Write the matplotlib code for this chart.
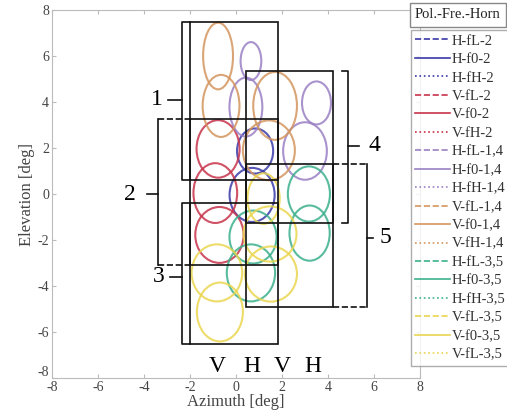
import numpy as np
import matplotlib
matplotlib.use("Agg")
import matplotlib.pyplot as plt
import matplotlib.transforms as mtrans
from matplotlib.patches import Ellipse, Rectangle
from matplotlib.lines import Line2D

plt.rcParams['font.family'] = ['Liberation Serif', 'DejaVu Serif']
plt.rcParams['axes.unicode_minus'] = False

# legend series
series_labels = ['H-fL-2', 'H-f0-2', 'H-fH-2', 'V-fL-2', 'V-f0-2', 'V-fH-2',
                 'H-fL-1,4', 'H-f0-1,4', 'H-fH-1,4', 'V-fL-1,4', 'V-f0-1,4', 'V-fH-1,4',
                 'H-fL-3,5', 'H-f0-3,5', 'H-fH-3,5', 'V-fL-3,5', 'V-f0-3,5', 'V-fL-3,5']
group_colors = ['#3a3aa8', '#c8344c', '#9a80c4', '#d4965e', '#3cb08c', '#ead650']
series_styles = ['--', '-', ':'] * 6

# beam contours: series index, centre az, centre el, width, height
ell_series = [0, 1, 3, 4, 5, 6, 7, 6, 7, 9, 10, 9, 10, 12, 13, 12, 13, 15, 16, 15, 16, 17]
ell_az = [0.83, 0.7, -0.78, -0.9, -0.72, 0.65, 0.43, 3.5, 3.0, -0.78, -0.65, 1.7, 1.43,
          3.17, 3.2, 0.74, 0.65, 1.2, 1.48, 1.52, -0.83, -0.7]
ell_el = [1.87, -0.04, 1.96, 0.04, -1.78, 5.78, 3.78, 3.96, 1.87, 6.0, 3.83, 3.83, 1.9,
          0.0, -1.7, -1.87, -3.43, -0.2, -1.74, -3.48, -3.43, -5.13]
ell_w = [1.57, 1.96, 1.87, 1.9, 2.1, 0.9, 1.43, 1.26, 1.9, 1.3, 1.6, 1.9, 2.26,
         1.83, 1.75, 2.05, 2.1, 1.4, 2.3, 2.26, 2.2, 2.0]
ell_h = [1.96, 2.35, 2.5, 2.6, 2.43, 1.65, 2.56, 1.87, 2.5, 2.9, 2.7, 2.95, 2.6,
         2.4, 2.4, 2.3, 2.48, 2.2, 2.4, 2.4, 2.48, 2.56]

# horn regions
box_az0 = [-2.0, -2.0, -2.0, 0.43, 0.43]
box_az1 = [1.83, 1.83, 1.83, 4.2, 4.2]
box_el0 = [0.6, -3.1, -6.5, -1.27, -4.9]
box_el1 = [7.5, 3.26, -0.39, 5.35, 1.3]

col_letters = ['V', 'H', 'V', 'H']
col_az = [-0.83, 0.7, 2.0, 3.35]

fig = plt.figure(figsize=(5.07, 4.17), dpi=100)
ax = fig.add_axes([52 / 507, 39 / 417, 368 / 507, 368 / 417])

for s, x, y, w, h in zip(ell_series, ell_az, ell_el, ell_w, ell_h):
    ax.add_patch(Ellipse((x, y), w, h, fill=False, lw=1.5,
                         ec=group_colors[s // 3], alpha=0.85))

for x0, x1, y0, y1 in zip(box_az0, box_az1, box_el0, box_el1):
    ax.add_patch(Rectangle((x0, y0), x1 - x0, y1 - y0, fill=False, ec='#111111', lw=1.2))

k = dict(color='#111111', lw=1.2)
# bracket 1
ax.plot([-2.0, -2.35, -2.35, -2.0], [7.5, 7.5, 0.6, 0.6], **k)
ax.plot([-2.96, -2.35], [4.1, 4.1], **k)
ax.text(-3.45, 4.1, '1', fontsize=17, ha='center', va='center')
# bracket 2
ax.plot([-3.4, -2.0], [3.26, 3.26], ls='--', **k)
ax.plot([-3.4, -2.0], [-3.1, -3.1], ls='--', **k)
ax.plot([-3.4, -3.4], [3.26, -3.1], **k)
ax.plot([-3.87, -3.4], [0.0, 0.0], **k)
ax.text(-4.6, 0.0, '2', fontsize=17, ha='center', va='center')
# bracket 3
ax.plot([-2.0, -2.35, -2.35, -2.0], [-0.39, -0.39, -6.5, -6.5], **k)
ax.plot([-2.87, -2.35], [-3.6, -3.6], **k)
ax.text(-3.35, -3.6, '3', fontsize=17, ha='center', va='center')
# bracket 4
ax.plot([4.6, 4.87, 4.87, 4.6], [5.35, 5.35, -1.27, -1.27], **k)
ax.plot([4.87, 5.35], [2.1, 2.1], **k)
ax.text(6.0, 2.1, '4', fontsize=17, ha='center', va='center')
# bracket 5
ax.plot([4.2, 5.7], [1.3, 1.3], ls='--', **k)
ax.plot([4.2, 5.7], [-4.9, -4.9], ls='--', **k)
ax.plot([5.7, 5.7], [1.3, -4.9], **k)
ax.plot([5.7, 5.96], [-1.9, -1.9], **k)
ax.text(6.5, -1.9, '5', fontsize=17, ha='center', va='center')

for letter, x in zip(col_letters, col_az):
    ax.text(x, -7.5, letter, fontsize=17, ha='center', va='center')

ax.set_xlim(-8, 8)
ax.set_ylim(-8, 8)
ax.set_xticks(np.arange(-8, 9, 2))
ax.set_yticks(np.arange(-8, 9, 2))
ax.tick_params(direction='in', top=True, right=True, length=3, color='#bbbbbb',
               labelcolor='#444444', labelsize=10, pad=2)
for sp in ax.spines.values():
    sp.set_color('#bbbbbb')
ax.set_xlabel('Azimuth [deg]', fontsize=12, color='#444444', labelpad=0)
ax.set_ylabel('Elevation [deg]', fontsize=12, color='#444444', labelpad=2)

# lift the bottom y label a little so it clears the -8 of the x axis
ylab0 = ax.get_yticklabels()[0]
ylab0.set_transform(ylab0.get_transform() +
                    mtrans.ScaledTranslation(0, 5 / 72, fig.dpi_scale_trans))

handles = [Line2D([], [], color=group_colors[i // 3], ls=series_styles[i], lw=1.2)
           for i in range(len(series_labels))]
leg = fig.legend(handles, series_labels, loc='upper left',
                 bbox_to_anchor=(411 / 507, 1 - 30 / 417), fontsize=10.5,
                 frameon=True, fancybox=False, edgecolor='#999999',
                 labelspacing=0.36, handlelength=2.4, handletextpad=0.1,
                 borderpad=0.3, borderaxespad=0)
leg.get_frame().set_linewidth(1.0)
for t in leg.get_texts():
    t.set_color('#333333')
fig.text(415 / 507, 1 - 15 / 417, 'Pol.-Fre.-Horn', fontsize=10.5, color='#222222',
         va='center', ha='left',
         bbox=dict(boxstyle='square,pad=0.35', fc='white', ec='#888888', lw=1.0))

fig.savefig('out.png', dpi=100)
